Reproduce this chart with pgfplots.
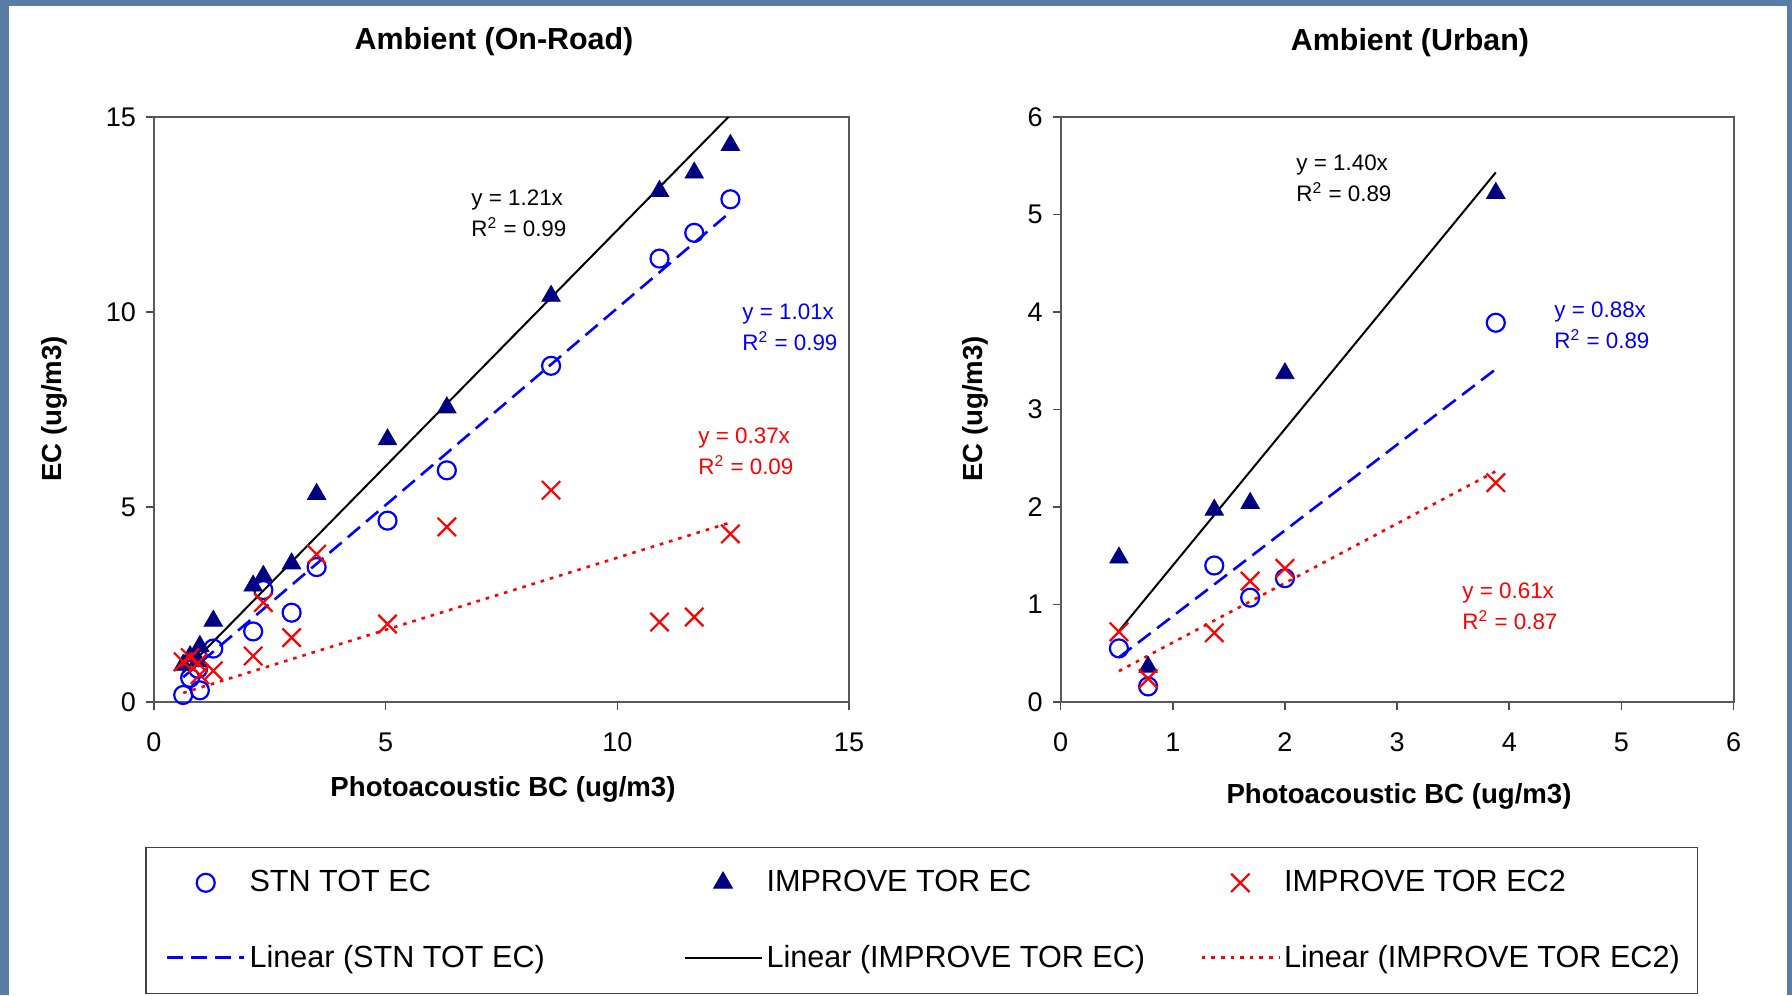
\documentclass[border=0pt]{standalone}
\usepackage{fontspec}
\setmainfont{Liberation Sans}
\usepackage{pgfplots}
\usepackage{pgfplotstable}
\pgfplotsset{compat=1.18}
\definecolor{bgblue}{HTML}{5A7DA5}
\definecolor{stnblue}{HTML}{0000FF}
\definecolor{navyc}{HTML}{000080}
\definecolor{ecred}{HTML}{FF0000}

\pgfplotstableread{
x     stn    imp    ec2
0.63  0.18   0.95   1.03
0.78  0.62   1.17   1.14
0.95  0.85   1.05   1.00
0.99  0.30   1.43   0.70
1.28  1.37   2.08   0.80
2.14  1.81   2.98   1.18
2.36  2.87   3.23   2.55
2.97  2.29   3.55   1.65
3.51  3.46   5.33   3.79
5.04  4.65   6.73   2.00
6.32  5.94   7.55   4.49
8.57  8.62   10.41  5.43
10.91 11.37  13.10  2.05
11.66 12.03  13.57  2.18
12.44 12.89  14.28  4.31
}\onroad

\pgfplotstableread{
x     stn    imp    ec2
0.52  0.55   1.48   0.72
0.78  0.16   0.36   0.24
1.37  1.40   1.97   0.71
1.69  1.07   2.04   1.24
2.00  1.27   3.37   1.37
3.88  3.89   5.22   2.25
}\urban

\pgfplotsset{
  myaxis/.style={
    scale only axis,
    height=292.5pt,
    axis line style={draw=black!65, line width=1.1pt},
    tick style={draw=black!70, line width=0.8pt},
    tick align=outside,
    major tick length=4pt,
    xtick pos=bottom, ytick pos=left,
    ticklabel style={font=\fontsize{13.5}{15}\selectfont},
    xticklabel style={yshift=-7.7pt},
    yticklabel style={xshift=-1.5pt},
    /pgf/number format/assume math mode=true,
    legend image code/.code={\draw[mark repeat=2,mark phase=2,##1] plot coordinates {(0pt,0pt) (19.25pt,0pt) (38.5pt,0pt)};},
  },
  stn/.style={color=stnblue, only marks, mark=o, mark size=4.5pt, mark options={line width=1.1pt}},
  imp/.style={color=navyc, only marks, mark=triangle*, mark size=5.3pt, mark options={fill=navyc}},
  ec2/.style={color=ecred, only marks, mark=x, mark size=6.5pt, mark options={line width=1.1pt}},
  stnfit/.style={color=stnblue, no marks, line width=1.3pt, dash pattern=on 8pt off 4pt},
  impfit/.style={color=black, no marks, line width=1pt},
  ec2fit/.style={color=ecred, no marks, line width=1.3pt, dash pattern=on 1.8pt off 3pt},
}

\begin{document}
\begin{tikzpicture}
\fill[bgblue] (0pt,0pt) rectangle (896pt,-497.5pt);
\fill[white] (4.5pt,-3pt) rectangle (893.5pt,-497.5pt);

\begin{axis}[myaxis, at={(77pt,-351pt)}, anchor=south west, width=347.5pt,
  xmin=0, xmax=15, ymin=0, ymax=15, xtick={0,5,10,15}, ytick={0,5,10,15}]
  \addplot[stn] table[x=x, y=stn] {\onroad};
  \addplot[imp] table[x=x, y=imp] {\onroad};
  \addplot[ec2] table[x=x, y=ec2] {\onroad};
  \addplot[stnfit] coordinates {(0.63,0.636) (12.44,12.564)};
  \addplot[impfit] coordinates {(0.63,0.762) (12.44,15.052)};
  \addplot[ec2fit] coordinates {(0.63,0.233) (12.44,4.603)};
\end{axis}

\begin{axis}[myaxis, at={(530.3pt,-351pt)}, anchor=south west, width=336.5pt,
  xmin=0, xmax=6, ymin=0, ymax=6, xtick={0,1,2,3,4,5,6}, ytick={0,1,2,3,4,5,6},
  legend columns=3,
  legend cell align=left,
  legend style={at={(axis description cs:-1.360,-0.2479)}, anchor=north west,
    draw=black!75, line width=0.6pt, font=\fontsize{15.3}{18}\selectfont,
    inner xsep=10pt, inner ysep=9.5pt, row sep=21pt,
    /tikz/every even column/.append style={column sep=10pt}}]
  \addplot[stn] table[x=x, y=stn] {\urban};
  \addlegendentry{\makebox[205pt][l]{STN TOT EC}}
  \addplot[imp] table[x=x, y=imp] {\urban};
  \addlegendentry{\makebox[205pt][l]{IMPROVE TOR EC}}
  \addplot[ec2] table[x=x, y=ec2] {\urban};
  \addlegendentry{\makebox[194.5pt][l]{IMPROVE TOR EC2}}
  \addplot[stnfit] coordinates {(0.52,0.458) (3.88,3.414)};
  \addlegendentry{\makebox[205pt][l]{Linear (STN TOT EC)}}
  \addplot[impfit] coordinates {(0.52,0.728) (3.88,5.432)};
  \addlegendentry{\makebox[205pt][l]{Linear (IMPROVE TOR EC)}}
  \addplot[ec2fit] coordinates {(0.52,0.317) (3.88,2.367)};
  \addlegendentry{\makebox[194.5pt][l]{Linear (IMPROVE TOR EC2)}}
\end{axis}

\begin{scope}[x=0.5pt, y=-0.5pt]
  \node[font=\bfseries\fontsize{15.2}{18}\selectfont] at (494,41.5) {Ambient (On-Road)};
  \node[font=\bfseries\fontsize{15.2}{18}\selectfont] at (1410,42.5) {Ambient (Urban)};
  \node[font=\bfseries\fontsize{13.8}{16}\selectfont] at (503,789.5) {Photoacoustic BC (ug/m3)};
  \node[font=\bfseries\fontsize{13.8}{16}\selectfont] at (1399,796.5) {Photoacoustic BC (ug/m3)};
  \node[font=\bfseries\fontsize{13.8}{16}\selectfont, rotate=90] at (54,409) {EC (ug/m3)};
  \node[font=\bfseries\fontsize{13.8}{16}\selectfont, rotate=90] at (975,409) {EC (ug/m3)};
  \node[font=\fontsize{11.2}{15.5}\selectfont, anchor=west, align=left, inner sep=0pt] at (471,213) {y = 1.21x\\R\textsuperscript{2} = 0.99};
  \node[font=\fontsize{11.2}{15.5}\selectfont, anchor=west, align=left, inner sep=0pt, text=stnblue] at (742,327) {y = 1.01x\\R\textsuperscript{2} = 0.99};
  \node[font=\fontsize{11.2}{15.5}\selectfont, anchor=west, align=left, inner sep=0pt, text=ecred] at (698,451) {y = 0.37x\\R\textsuperscript{2} = 0.09};
  \node[font=\fontsize{11.2}{15.5}\selectfont, anchor=west, align=left, inner sep=0pt] at (1296,178) {y = 1.40x\\R\textsuperscript{2} = 0.89};
  \node[font=\fontsize{11.2}{15.5}\selectfont, anchor=west, align=left, inner sep=0pt, text=stnblue] at (1554,325) {y = 0.88x\\R\textsuperscript{2} = 0.89};
  \node[font=\fontsize{11.2}{15.5}\selectfont, anchor=west, align=left, inner sep=0pt, text=ecred] at (1462,606) {y = 0.61x\\R\textsuperscript{2} = 0.87};
\end{scope}
\end{tikzpicture}
\end{document}
